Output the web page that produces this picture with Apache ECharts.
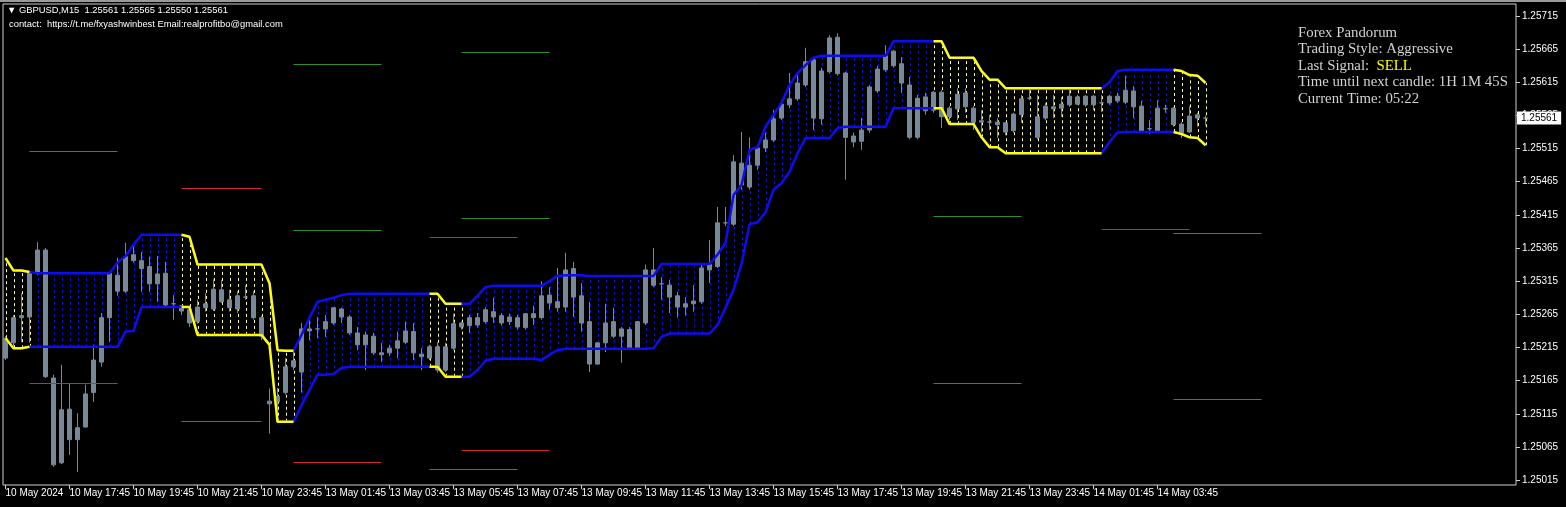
<!DOCTYPE html>
<html>
<head>
<meta charset="utf-8">
<title>GBPUSD M15</title>
<script src="https://cdn.jsdelivr.net/npm/echarts@6/dist/echarts.min.js"></script>
<style>
  html, body { margin: 0; padding: 0; background: #000; }
  #main { width: 1566px; height: 507px; }
</style>
</head>
<body>
<div id="main"></div>
<script>
// bar index of each time label (one label every 8 bars = 2 hours on M15)
var labelBars = [0, 8, 16, 24, 32, 40, 48, 56, 64, 72, 80, 88, 96, 104, 112, 120, 128, 136, 144]
var timeLabels = ['10 May 2024', '10 May 17:45', '10 May 19:45', '10 May 21:45', '10 May 23:45',
  '13 May 01:45', '13 May 03:45', '13 May 05:45', '13 May 07:45', '13 May 09:45', '13 May 11:45',
  '13 May 13:45', '13 May 15:45', '13 May 17:45', '13 May 19:45', '13 May 21:45', '13 May 23:45',
  '14 May 01:45', '14 May 03:45']
var priceTicks = [1.25015, 1.25065, 1.25115, 1.25165, 1.25215, 1.25265, 1.25315, 1.25365,
  1.25415, 1.25465, 1.25515, 1.25565, 1.25615, 1.25665, 1.25715]
var lastPrice = 1.25561

// open, close, low, high
var candles = [
  [1.25199, 1.25229, 1.25196, 1.25232], [1.25222, 1.25260, 1.25217, 1.25264], [1.25260, 1.25263, 1.25223, 1.25297],
  [1.25261, 1.25327, 1.25222, 1.25329], [1.25327, 1.25362, 1.25324, 1.25374], [1.25362, 1.25171, 1.25169, 1.25365],
  [1.25169, 1.25038, 1.25035, 1.25174], [1.25041, 1.25121, 1.25039, 1.25189], [1.25122, 1.25076, 1.25053, 1.25160],
  [1.25076, 1.25094, 1.25027, 1.25116], [1.25095, 1.25145, 1.25094, 1.25159], [1.25147, 1.25196, 1.25133, 1.25219],
  [1.25193, 1.25260, 1.25186, 1.25267], [1.25260, 1.25327, 1.25223, 1.25329], [1.25324, 1.25300, 1.25293, 1.25350],
  [1.25300, 1.25352, 1.25297, 1.25373], [1.25346, 1.25355, 1.25343, 1.25371], [1.25346, 1.25334, 1.25299, 1.25359],
  [1.25337, 1.25311, 1.25299, 1.25352], [1.25311, 1.25326, 1.25284, 1.25353], [1.25327, 1.25279, 1.25276, 1.25344],
  [1.25281, 1.25281, 1.25257, 1.25294], [1.25278, 1.25270, 1.25264, 1.25279], [1.25272, 1.25252, 1.25246, 1.25278],
  [1.25254, 1.25276, 1.25251, 1.25287], [1.25275, 1.25281, 1.25269, 1.25297], [1.25273, 1.25303, 1.25270, 1.25318],
  [1.25302, 1.25284, 1.25282, 1.25317], [1.25287, 1.25275, 1.25269, 1.25302], [1.25273, 1.25293, 1.25267, 1.25300],
  [1.25291, 1.25291, 1.25287, 1.25309], [1.25293, 1.25260, 1.25257, 1.25300], [1.25260, 1.25232, 1.25226, 1.25263],
  [1.25130, 1.25134, 1.25085, 1.25153], [1.25133, 1.25141, 1.25118, 1.25154], [1.25147, 1.25186, 1.25144, 1.25199],
  [1.25186, 1.25195, 1.25181, 1.25211], [1.25178, 1.25243, 1.25147, 1.25252], [1.25243, 1.25240, 1.25226, 1.25257],
  [1.25243, 1.25243, 1.25229, 1.25261], [1.25243, 1.25254, 1.25231, 1.25264], [1.25252, 1.25275, 1.25249, 1.25276],
  [1.25273, 1.25261, 1.25252, 1.25275], [1.25261, 1.25237, 1.25234, 1.25264], [1.25237, 1.25219, 1.25211, 1.25246],
  [1.25219, 1.25234, 1.25181, 1.25239], [1.25232, 1.25207, 1.25204, 1.25237], [1.25207, 1.25204, 1.25193, 1.25222],
  [1.25207, 1.25214, 1.25202, 1.25219], [1.25214, 1.25225, 1.25199, 1.25239], [1.25223, 1.25240, 1.25220, 1.25254],
  [1.25239, 1.25207, 1.25196, 1.25252], [1.25205, 1.25201, 1.25181, 1.25214], [1.25199, 1.25216, 1.25196, 1.25219],
  [1.25216, 1.25181, 1.25177, 1.25223], [1.25181, 1.25216, 1.25178, 1.25222], [1.25214, 1.25251, 1.25211, 1.25266],
  [1.25246, 1.25252, 1.25242, 1.25254], [1.25248, 1.25260, 1.25237, 1.25264], [1.25260, 1.25249, 1.25245, 1.25267],
  [1.25254, 1.25272, 1.25251, 1.25276], [1.25269, 1.25261, 1.25252, 1.25290], [1.25263, 1.25252, 1.25248, 1.25267],
  [1.25254, 1.25261, 1.25249, 1.25266], [1.25260, 1.25246, 1.25242, 1.25264], [1.25245, 1.25266, 1.25242, 1.25267],
  [1.25266, 1.25260, 1.25249, 1.25278], [1.25260, 1.25293, 1.25257, 1.25315], [1.25282, 1.25294, 1.25272, 1.25306],
  [1.25284, 1.25275, 1.25269, 1.25335], [1.25276, 1.25332, 1.25269, 1.25358], [1.25334, 1.25291, 1.25261, 1.25344],
  [1.25293, 1.25252, 1.25239, 1.25312], [1.25254, 1.25190, 1.25178, 1.25284], [1.25190, 1.25222, 1.25189, 1.25223],
  [1.25222, 1.25252, 1.25208, 1.25281], [1.25232, 1.25254, 1.25229, 1.25275], [1.25243, 1.25232, 1.25192, 1.25246],
  [1.25242, 1.25214, 1.25211, 1.25246], [1.25213, 1.25254, 1.25211, 1.25255], [1.25252, 1.25332, 1.25249, 1.25340],
  [1.25332, 1.25309, 1.25306, 1.25365], [1.25311, 1.25311, 1.25287, 1.25321], [1.25309, 1.25291, 1.25267, 1.25317],
  [1.25293, 1.25276, 1.25260, 1.25299], [1.25276, 1.25281, 1.25263, 1.25291], [1.25281, 1.25285, 1.25269, 1.25309],
  [1.25284, 1.25335, 1.25281, 1.25340], [1.25332, 1.25340, 1.25312, 1.25377], [1.25337, 1.25403, 1.25335, 1.25427],
  [1.25403, 1.25403, 1.25398, 1.25427], [1.25401, 1.25495, 1.25398, 1.25505], [1.25493, 1.25460, 1.25453, 1.25540],
  [1.25457, 1.25490, 1.25453, 1.25532], [1.25490, 1.25516, 1.25483, 1.25520], [1.25516, 1.25528, 1.25510, 1.25539],
  [1.25528, 1.25560, 1.25525, 1.25573], [1.25561, 1.25582, 1.25558, 1.25585], [1.25581, 1.25590, 1.25576, 1.25629],
  [1.25590, 1.25614, 1.25587, 1.25629], [1.25611, 1.25646, 1.25608, 1.25667], [1.25649, 1.25561, 1.25543, 1.25652],
  [1.25560, 1.25632, 1.25551, 1.25637], [1.25631, 1.25682, 1.25628, 1.25686], [1.25683, 1.25628, 1.25625, 1.25689],
  [1.25629, 1.25532, 1.25468, 1.25631], [1.25534, 1.25525, 1.25517, 1.25539], [1.25526, 1.25543, 1.25513, 1.25561],
  [1.25543, 1.25608, 1.25539, 1.25611], [1.25602, 1.25635, 1.25599, 1.25640], [1.25634, 1.25655, 1.25631, 1.25671],
  [1.25640, 1.25662, 1.25637, 1.25664], [1.25643, 1.25614, 1.25599, 1.25653], [1.25611, 1.25532, 1.25529, 1.25623],
  [1.25532, 1.25591, 1.25529, 1.25596], [1.25593, 1.25572, 1.25566, 1.25599], [1.25573, 1.25600, 1.25569, 1.25602],
  [1.25600, 1.25563, 1.25546, 1.25603], [1.25563, 1.25576, 1.25558, 1.25579], [1.25575, 1.25597, 1.25558, 1.25606],
  [1.25599, 1.25578, 1.25569, 1.25606], [1.25576, 1.25555, 1.25543, 1.25579], [1.25557, 1.25555, 1.25539, 1.25573],
  [1.25555, 1.25555, 1.25543, 1.25566], [1.25555, 1.25551, 1.25531, 1.25561], [1.25554, 1.25540, 1.25535, 1.25555],
  [1.25542, 1.25567, 1.25539, 1.25569], [1.25566, 1.25590, 1.25554, 1.25596], [1.25591, 1.25591, 1.25588, 1.25606],
  [1.25563, 1.25532, 1.25529, 1.25596], [1.25561, 1.25579, 1.25558, 1.25584], [1.25575, 1.25578, 1.25561, 1.25596],
  [1.25576, 1.25582, 1.25563, 1.25593], [1.25581, 1.25594, 1.25578, 1.25608], [1.25593, 1.25582, 1.25581, 1.25596],
  [1.25581, 1.25594, 1.25578, 1.25596], [1.25594, 1.25581, 1.25573, 1.25596], [1.25584, 1.25584, 1.25570, 1.25596],
  [1.25584, 1.25594, 1.25581, 1.25596], [1.25587, 1.25594, 1.25584, 1.25599], [1.25585, 1.25603, 1.25582, 1.25625],
  [1.25602, 1.25578, 1.25561, 1.25609], [1.25579, 1.25542, 1.25540, 1.25587], [1.25545, 1.25545, 1.25537, 1.25558],
  [1.25542, 1.25576, 1.25540, 1.25588], [1.25575, 1.25575, 1.25569, 1.25581], [1.25576, 1.25551, 1.25548, 1.25578],
  [1.25552, 1.25539, 1.25531, 1.25555], [1.25540, 1.25564, 1.25539, 1.25579], [1.25566, 1.25561, 1.25548, 1.25569],
  [1.25561, 1.25561, 1.25550, 1.25565]
]

// channel bands, one value per bar
var upperBand = [
  1.25350, 1.25331, 1.25331, 1.25329, 1.25327, 1.25327, 1.25327, 1.25327, 1.25327, 1.25327,
  1.25327, 1.25327, 1.25327, 1.25327, 1.25343, 1.25353, 1.25370, 1.25385, 1.25385, 1.25385,
  1.25385, 1.25385, 1.25385, 1.25382, 1.25340, 1.25340, 1.25340, 1.25340, 1.25340, 1.25340,
  1.25340, 1.25340, 1.25340, 1.25312, 1.25211, 1.25210, 1.25210, 1.25234, 1.25260, 1.25284,
  1.25287, 1.25290, 1.25294, 1.25296, 1.25296, 1.25296, 1.25296, 1.25296, 1.25296, 1.25296,
  1.25296, 1.25296, 1.25296, 1.25296, 1.25296, 1.25281, 1.25281, 1.25281, 1.25281, 1.25293,
  1.25306, 1.25308, 1.25308, 1.25308, 1.25308, 1.25308, 1.25308, 1.25308, 1.25315, 1.25323,
  1.25324, 1.25324, 1.25324, 1.25323, 1.25323, 1.25323, 1.25323, 1.25323, 1.25323, 1.25323,
  1.25323, 1.25323, 1.25341, 1.25341, 1.25341, 1.25341, 1.25341, 1.25341, 1.25341, 1.25355,
  1.25373, 1.25445, 1.25460, 1.25513, 1.25517, 1.25548, 1.25566, 1.25584, 1.25611, 1.25629,
  1.25641, 1.25652, 1.25655, 1.25655, 1.25655, 1.25655, 1.25655, 1.25655, 1.25655, 1.25655,
  1.25655, 1.25677, 1.25677, 1.25677, 1.25677, 1.25677, 1.25677, 1.25677, 1.25652, 1.25652,
  1.25652, 1.25652, 1.25632, 1.25619, 1.25619, 1.25606, 1.25606, 1.25606, 1.25606, 1.25606,
  1.25606, 1.25606, 1.25606, 1.25606, 1.25606, 1.25606, 1.25606, 1.25606, 1.25615, 1.25632,
  1.25634, 1.25634, 1.25634, 1.25634, 1.25634, 1.25634, 1.25634, 1.25632, 1.25626, 1.25625,
  1.25614
]
var lowerBand = [
  1.25229, 1.25214, 1.25214, 1.25216, 1.25216, 1.25216, 1.25216, 1.25216, 1.25216, 1.25216,
  1.25216, 1.25216, 1.25216, 1.25216, 1.25216, 1.25239, 1.25240, 1.25276, 1.25276, 1.25276,
  1.25276, 1.25276, 1.25276, 1.25276, 1.25234, 1.25234, 1.25234, 1.25234, 1.25234, 1.25234,
  1.25234, 1.25234, 1.25234, 1.25219, 1.25103, 1.25103, 1.25103, 1.25128, 1.25151, 1.25174,
  1.25174, 1.25175, 1.25184, 1.25186, 1.25186, 1.25186, 1.25186, 1.25186, 1.25186, 1.25186,
  1.25186, 1.25186, 1.25186, 1.25186, 1.25186, 1.25171, 1.25171, 1.25171, 1.25171, 1.25181,
  1.25195, 1.25198, 1.25198, 1.25198, 1.25198, 1.25198, 1.25198, 1.25196, 1.25204, 1.25211,
  1.25213, 1.25213, 1.25213, 1.25213, 1.25213, 1.25213, 1.25213, 1.25213, 1.25213, 1.25213,
  1.25213, 1.25214, 1.25231, 1.25236, 1.25236, 1.25236, 1.25236, 1.25236, 1.25236, 1.25249,
  1.25275, 1.25302, 1.25341, 1.25401, 1.25404, 1.25419, 1.25453, 1.25463, 1.25480, 1.25508,
  1.25531, 1.25531, 1.25531, 1.25531, 1.25546, 1.25548, 1.25548, 1.25548, 1.25548, 1.25548,
  1.25548, 1.25576, 1.25576, 1.25576, 1.25576, 1.25576, 1.25576, 1.25576, 1.25552, 1.25552,
  1.25552, 1.25552, 1.25532, 1.25517, 1.25517, 1.25508, 1.25508, 1.25508, 1.25508, 1.25508,
  1.25508, 1.25508, 1.25508, 1.25508, 1.25508, 1.25508, 1.25508, 1.25508, 1.25525, 1.25539,
  1.25540, 1.25540, 1.25540, 1.25540, 1.25540, 1.25540, 1.25540, 1.25537, 1.25532, 1.25531,
  1.25520
]
// bar ranges where the channel is in sell (yellow) mode
var sellSpans = [[0, 3], [22, 36], [53, 57], [116, 137], [146, 150]]

// short level lines: [first bar, last bar, price]
var redLevels = [[3, 14, 1.25162], [22, 32, 1.25456], [36, 47, 1.25042], [53, 64, 1.25382],
  [57, 68, 1.25061], [137, 148, 1.25394]]
var greenLevels = [[3, 14, 1.25511], [22, 32, 1.25104], [36, 47, 1.25643], [36, 47, 1.25392],
  [53, 64, 1.25032], [57, 68, 1.25661], [57, 68, 1.25410], [116, 127, 1.25413], [116, 127, 1.25162],
  [146, 157, 1.25388], [146, 157, 1.25137]]

var chartDom = document.getElementById('main')
var myChart = echarts.init(chartDom)

function isSell (i) {
  for (var k = 0; k < sellSpans.length; k++) {
    if (i >= sellSpans[k][0] && i <= sellSpans[k][1]) return true
  }
  return false
}

var candleData = []
var upBlue = []
var lowBlue = []
var upYellow = []
var lowYellow = []
var sticksBlue = []
var sticksYellow = []
candles.forEach(function (c, i) {
  candleData.push([i, c[0], c[1], c[2], c[3]])
  upBlue.push([i, upperBand[i]])
  lowBlue.push([i, lowerBand[i]])
  var s = isSell(i)
  upYellow.push([i, s ? upperBand[i] : null])
  lowYellow.push([i, s ? lowerBand[i] : null])
  if (s) sticksYellow.push([i, lowerBand[i], upperBand[i]])
  else sticksBlue.push([i, lowerBand[i], upperBand[i]])
})

function stickRenderer (color) {
  return function (params, api) {
    var a = api.coord([api.value(0), api.value(1)])
    var b = api.coord([api.value(0), api.value(2)])
    return {
      type: 'line',
      shape: { x1: Math.round(a[0]) + 0.5, y1: a[1], x2: Math.round(b[0]) + 0.5, y2: b[1] },
      style: { stroke: color, lineWidth: 1, lineDash: [3, 3] }
    }
  }
}

function levelRenderer (color) {
  return function (params, api) {
    var a = api.coord([api.value(0), api.value(2)])
    var b = api.coord([api.value(1), api.value(2)])
    return {
      type: 'line',
      shape: { x1: a[0], y1: Math.round(a[1]) + 0.5, x2: b[0], y2: Math.round(b[1]) + 0.5 },
      style: { stroke: color, lineWidth: 1 }
    }
  }
}

var gray = '#778899'
var blue = '#0d0df2'
var yellow = '#ffff00'
var labelFont = 'Liberation Sans'
var infoStyle = { color: '#d2d2d2', fontSize: 14.8, lineHeight: 16.4, fontFamily: 'Liberation Serif', fontWeight: 'normal' }

var option = {
  backgroundColor: '#000',
  animation: false,
  graphic: [
    { type: 'rect', left: 0, top: 0, shape: { width: 1566, height: 2 }, style: { fill: '#9a9a9a' }, silent: true }
  ],
  title: [
    {
      text: '▼ GBPUSD,M15  1.25561 1.25565 1.25550 1.25561',
      left: 7,
      top: 6,
      padding: 0,
      textStyle: { color: '#fff', fontSize: 9.4, fontWeight: 'normal', fontFamily: labelFont }
    },
    {
      text: 'contact:  https://t.me/fxyashwinbest Email:realprofitbo@gmail.com',
      left: 9,
      top: 20,
      padding: 0,
      textStyle: { color: '#fff', fontSize: 9.4, fontWeight: 'normal', fontFamily: labelFont }
    },
    {
      text: '{a|Forex Pandorum}\n{a|Trading Style: Aggressive}\n{a|Last Signal:  }{s|SELL}\n{a|Time until next candle: 1H 1M 45S}\n{a|Current Time: 05:22}',
      left: 1298,
      top: 25,
      padding: 0,
      textStyle: {
        fontWeight: 'normal',
        rich: {
          a: infoStyle,
          s: Object.assign({}, infoStyle, { color: '#ffff00' })
        }
      }
    }
  ],
  grid: {
    left: 3,
    top: 4,
    right: 50,
    bottom: 22,
    show: true,
    backgroundColor: '#000',
    borderColor: '#d0d0d0',
    borderWidth: 1
  },
  xAxis: {
    type: 'value',
    min: -0.3125,
    max: 188.8,
    axisLine: { show: false, onZero: false },
    splitLine: { show: false },
    axisTick: { show: true, customValues: labelBars, length: 4, lineStyle: { color: '#d0d0d0' } },
    axisLabel: {
      customValues: labelBars,
      color: '#fff',
      fontSize: 10,
      fontFamily: labelFont,
      align: 'left',
      margin: 3,
      formatter: function (v) {
        return timeLabels[labelBars.indexOf(Math.round(v))]
      }
    }
  },
  yAxis: {
    type: 'value',
    position: 'right',
    min: 1.250076,
    max: 1.257331,
    scale: true,
    axisLine: { show: false, onZero: false },
    splitLine: { show: false },
    axisTick: { show: true, customValues: priceTicks, length: 4, lineStyle: { color: '#d0d0d0' } },
    axisLabel: {
      customValues: priceTicks.concat([lastPrice]),
      color: '#fff',
      fontSize: 10,
      fontFamily: labelFont,
      margin: 1,
      formatter: function (v) {
        if (Math.abs(v - lastPrice) < 1e-7) return '{cur|' + v.toFixed(5) + '}'
        return '{n|' + v.toFixed(5) + '}'
      },
      rich: {
        n: { color: '#fff', fontSize: 10, fontFamily: labelFont, padding: [0, 0, 0, 5] },
        cur: { color: '#000', backgroundColor: '#fff', fontSize: 10, fontFamily: labelFont, padding: [2, 4, 1, 4] }
      }
    }
  },
  series: [
    {
      type: 'custom',
      name: 'channel dots',
      renderItem: stickRenderer('#1010c8'),
      data: sticksBlue,
      encode: { x: 0, y: [1, 2] },
      silent: true,
      z: 1
    },
    {
      type: 'custom',
      name: 'channel dots sell',
      renderItem: stickRenderer('#ffffa8'),
      data: sticksYellow,
      encode: { x: 0, y: [1, 2] },
      silent: true,
      z: 1
    },
    {
      type: 'candlestick',
      name: 'GBPUSD',
      data: candleData,
      encode: { x: 0, y: [1, 2, 3, 4] },
      barWidth: 4,
      itemStyle: { color: gray, color0: gray, borderColor: gray, borderColor0: gray, borderWidth: 1 },
      silent: true,
      z: 2
    },
    {
      type: 'line',
      name: 'upper',
      data: upBlue,
      showSymbol: false,
      lineStyle: { color: blue, width: 2.5 },
      silent: true,
      z: 3
    },
    {
      type: 'line',
      name: 'lower',
      data: lowBlue,
      showSymbol: false,
      lineStyle: { color: blue, width: 2.5 },
      silent: true,
      z: 3
    },
    {
      type: 'line',
      name: 'upper sell',
      data: upYellow,
      showSymbol: false,
      connectNulls: false,
      lineStyle: { color: yellow, width: 2.5 },
      silent: true,
      z: 4
    },
    {
      type: 'line',
      name: 'lower sell',
      data: lowYellow,
      showSymbol: false,
      connectNulls: false,
      lineStyle: { color: yellow, width: 2.5 },
      silent: true,
      z: 4
    },
    {
      type: 'custom',
      name: 'resistance',
      renderItem: levelRenderer('#d02a2a'),
      data: redLevels,
      encode: { x: [0, 1], y: 2 },
      silent: true,
      z: 4
    },
    {
      type: 'custom',
      name: 'support',
      renderItem: levelRenderer('#2f8f2f'),
      data: greenLevels,
      encode: { x: [0, 1], y: 2 },
      silent: true,
      z: 4
    }
  ]
}

option && myChart.setOption(option)
</script>
</body>
</html>
